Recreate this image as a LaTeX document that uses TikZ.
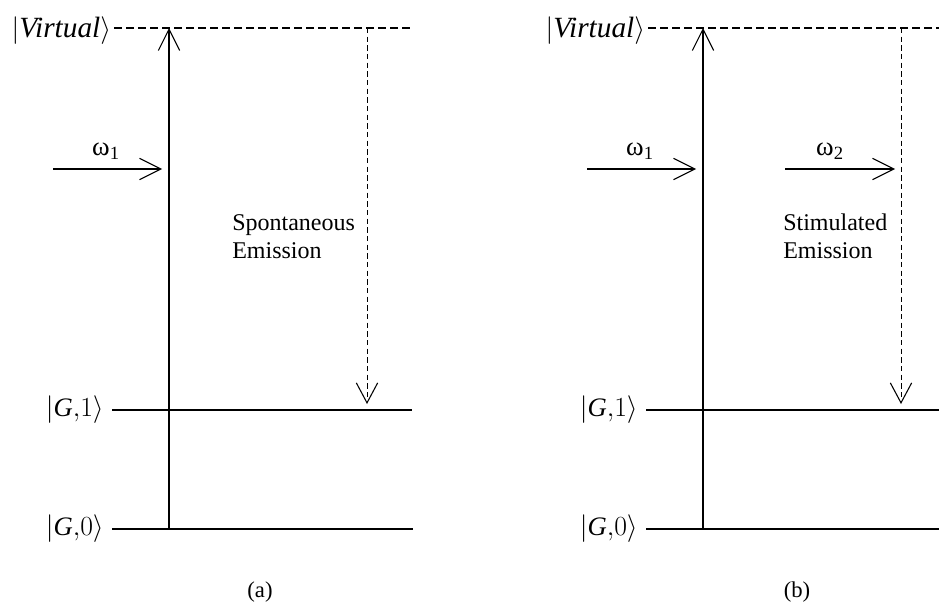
\documentclass[tikz,border=0pt]{standalone}
\usepackage{fontspec}
\setmainfont{Liberation Serif}
\usetikzlibrary{arrows.meta}
\newcommand{\vstrut}{\rule[-5pt]{0pt}{21pt}}
\newcommand{\gstrut}{\rule[-5pt]{0pt}{19pt}}
\begin{document}
\begin{tikzpicture}[x=0.75pt,y=-0.75pt,
  level/.style={line width=1.5pt},
  virt/.style={line width=1.5pt,dash pattern=on 6pt off 3pt},
  pump/.style={line width=0.8pt,-{Straight Barb[length=16pt,width=16pt,line width=0.8pt]}},
  emit/.style={line width=0.7pt,dash pattern=on 4pt off 2.5pt,-{Straight Barb[length=15pt,width=16pt,line width=0.8pt]}},
  vlabel/.style={anchor=east,inner sep=2pt,yshift=-2pt,font=\fontsize{22}{26}\selectfont},
  stlabel/.style={anchor=east,inner sep=6pt,font=\fontsize{20}{24}\selectfont},
  txt/.style={align=left,anchor=north west,inner sep=0pt,font=\fontsize{18}{21}\selectfont},
  om/.style={inner sep=0pt,font=\fontsize{20}{24}\selectfont},
  captxt/.style={inner sep=0pt,font=\fontsize{17}{20}\selectfont}]
\useasboundingbox (0,0) rectangle (939,606);
% ---------- panel (a) ----------
\coordinate (aV0) at (114,28);
\coordinate (aV1) at (410,28);
\coordinate (aG10) at (112,410);
\coordinate (aG11) at (412,410);
\coordinate (aG00) at (112,529);
\coordinate (aG01) at (413,529);
\node[vlabel] (aVl) at (aV0) {$\left|\vstrut\textit{Virtual}\right\rangle$};
\node[stlabel] (aG1l) at (aG10) {$\left|\gstrut\textit{G},\!1\right\rangle$};
\node[stlabel] (aG0l) at (aG00) {$\left|\gstrut\textit{G},\!0\right\rangle$};
\draw[virt] (aV0) -- (aV1);
\draw[level] (aG10) -- (aG11);
\draw[level] (aG00) -- (aG01);
\coordinate (aPb) at (169,529);
\coordinate (aPt) at (169,28);
\draw[pump] (aPb) -- (aPt);
\coordinate (aW0) at (53,169);
\coordinate (aW1) at (162,169);
\draw[pump] (aW0) -- (aW1);
\node[om] (aWl) at (106,151) {ω\textsubscript{1}};
\coordinate (aEt) at (367,28);
\coordinate (aEb) at (367,404);
\draw[emit] (aEt) -- (aEb);
\node[txt] (aTx) at (232,214) {Spontaneous\\Emission};
\node[captxt] (acap) at (260,592) {(a)};
% ---------- panel (b) ----------
\coordinate (bV0) at (648,28);
\coordinate (bV1) at (939,28);
\coordinate (bG10) at (646,410);
\coordinate (bG11) at (939,410);
\coordinate (bG00) at (646,529);
\coordinate (bG01) at (939,529);
\node[vlabel] (bVl) at (bV0) {$\left|\vstrut\textit{Virtual}\right\rangle$};
\node[stlabel] (bG1l) at (bG10) {$\left|\gstrut\textit{G},\!1\right\rangle$};
\node[stlabel] (bG0l) at (bG00) {$\left|\gstrut\textit{G},\!0\right\rangle$};
\draw[virt] (bV0) -- (bV1);
\draw[level] (bG10) -- (bG11);
\draw[level] (bG00) -- (bG01);
\coordinate (bPb) at (703,529);
\coordinate (bPt) at (703,28);
\draw[pump] (bPb) -- (bPt);
\coordinate (bW0) at (587,169);
\coordinate (bW1) at (696,169);
\draw[pump] (bW0) -- (bW1);
\node[om] (bWl) at (640,151) {ω\textsubscript{1}};
\coordinate (bX0) at (785,169);
\coordinate (bX1) at (895,169);
\draw[pump] (bX0) -- (bX1);
\node[om] (bXl) at (830,151) {ω\textsubscript{2}};
\coordinate (bEt) at (901,28);
\coordinate (bEb) at (901,404);
\draw[emit] (bEt) -- (bEb);
\node[txt] (bTx) at (783,214) {Stimulated\\Emission};
\node[captxt] (bcap) at (797,592) {(b)};
\end{tikzpicture}
\end{document}
